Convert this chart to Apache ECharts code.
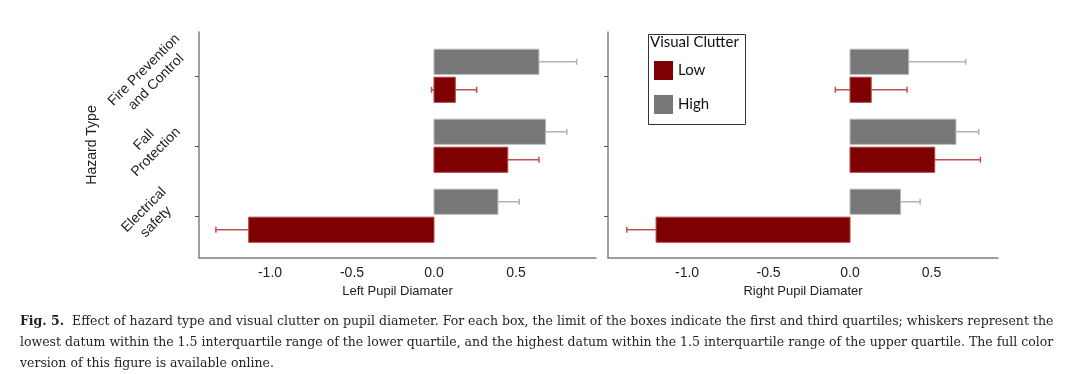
<!DOCTYPE html>
<html>
<head>
<meta charset="utf-8">
<script src="https://cdn.jsdelivr.net/npm/echarts@6/dist/echarts.min.js"></script>
<style>
html,body{margin:0;padding:0;background:#fff;}
#chart{width:1080px;height:374px;}
</style>
</head>
<body>
<div id="chart"></div>
<script>
// ---------- data ----------
const hazardTypes = ['Electrical\nsafety', 'Fall\nProtection', 'Fire Prevention\nand Control'];
const clutterLevels = ['Low', 'High'];
const xTickValues = [-1.0, -0.5, 0.0, 0.5];
const hazardTickValues = [0, 1, 2];

// Left pupil diameter (order: Electrical, Fall, Fire)
const leftLow = [-1.13, 0.45, 0.13];
const leftLowWhiskerFar = [-1.33, 0.64, 0.26];
const leftLowWhiskerNear = [null, null, -0.015];
const leftHigh = [0.39, 0.68, 0.64];
const leftHighWhiskerFar = [0.52, 0.81, 0.87];
const leftHighWhiskerNear = [null, null, null];

// Right pupil diameter
const rightLow = [-1.19, 0.52, 0.13];
const rightLowWhiskerFar = [-1.37, 0.80, 0.35];
const rightLowWhiskerNear = [null, null, -0.09];
const rightHigh = [0.31, 0.65, 0.36];
const rightHighWhiskerFar = [0.43, 0.79, 0.71];
const rightHighWhiskerNear = [null, null, null];

const captionLines = [
  'Effect of hazard type and visual clutter on pupil diameter. For each box, the limit of the boxes indicate the first and third quartiles; whiskers represent the',
  'lowest datum within the 1.5 interquartile range of the lower quartile, and the highest datum within the 1.5 interquartile range of the upper quartile. The full color',
  'version of this figure is available online.'
];

// ---------- styling ----------
const RED = '#7f0000', GRAY = '#777777';
const AX = '#7f7f7f';
const SANS = 'Liberation Sans, Arial, sans-serif';
const SERIF = 'DejaVu Serif, serif';
const CAP_SIZE = 12.5;

function rows(vals, far, near) {
  return vals.map((v, i) => [i, v, far[i] == null ? NaN : far[i], near[i] == null ? NaN : near[i]]);
}

function makeRender(offset, fill, edge, whiskerColor) {
  return function (params, api) {
    const idx = api.value(0);
    const v = api.value(1);
    const far = api.value(2);
    const near = api.value(3);
    const unit = api.size([0, 1])[1];
    const base = api.coord([0, idx]);
    const yc = base[1] + offset * unit;
    const h = 0.36 * unit;
    const x0 = base[0];
    const x1 = api.coord([v, idx])[0];
    const children = [];
    const cap = 3;
    function whisker(a, b) {
      const xa = api.coord([a, idx])[0], xb = api.coord([b, idx])[0];
      children.push({type: 'line', shape: {x1: xa, y1: yc, x2: xb, y2: yc}, style: {stroke: whiskerColor, lineWidth: 1.5}});
      children.push({type: 'line', shape: {x1: xb, y1: yc - cap, x2: xb, y2: yc + cap}, style: {stroke: whiskerColor, lineWidth: 1.5}});
    }
    if (!isNaN(far)) whisker(v, far);
    if (!isNaN(near)) whisker(0, near);
    children.push({
      type: 'rect',
      shape: {x: Math.min(x0, x1), y: yc - h / 2, width: Math.abs(x1 - x0), height: h},
      style: {fill: fill, stroke: edge, lineWidth: 1}
    });
    return {type: 'group', children: children};
  };
}

function yAxisFor(gi, showLabels) {
  return {
    type: 'value', gridIndex: gi, min: -0.6, max: 2.63,
    axisLine: {show: true, onZero: false, lineStyle: {color: AX, width: 1.5}},
    axisTick: {show: true, customValues: hazardTickValues, length: 4, lineStyle: {color: '#555', width: 1}},
    axisLabel: {
      show: showLabels, customValues: hazardTickValues,
      formatter: v => hazardTypes[Math.round(v)],
      rotate: 45, align: 'center', verticalAlign: 'middle', margin: 49,
      fontSize: 14, lineHeight: 17, color: '#222', fontFamily: SANS
    },
    splitLine: {show: false},
    name: showLabels ? 'Hazard Type' : '',
    nameLocation: 'middle', nameGap: 100, nameRotate: 90,
    nameTextStyle: {fontSize: 14, color: '#222', fontFamily: SANS}
  };
}

function xAxisFor(gi, min, max, name) {
  return {
    type: 'value', gridIndex: gi, min: min, max: max,
    axisLine: {show: true, onZero: false, lineStyle: {color: AX, width: 1.5}},
    axisTick: {show: false},
    axisLabel: {customValues: xTickValues, formatter: v => v.toFixed(1), margin: 8, fontSize: 14, color: '#222', fontFamily: SANS},
    splitLine: {show: false},
    name: name, nameLocation: 'middle', nameGap: 27,
    nameTextStyle: {fontSize: 13, color: '#222', fontFamily: SANS}
  };
}

function seriesFor(name, gi, vals, far, near, offset, fill, edge, wcol) {
  return {
    type: 'custom', name: name, xAxisIndex: gi, yAxisIndex: gi,
    renderItem: makeRender(offset, fill, edge, wcol),
    encode: {x: [1, 2, 3], y: 0},
    itemStyle: {color: fill},
    data: rows(vals, far, near),
    z: 3
  };
}

const chart = echarts.init(document.getElementById('chart'), null, {renderer: 'canvas'});
chart.setOption({
  animation: false,
  backgroundColor: '#fff',
  grid: [
    {left: 199, top: 32, width: 397, height: 226},
    {left: 608, top: 32, width: 390, height: 226}
  ],
  xAxis: [
    xAxisFor(0, -1.433, 0.988, 'Left Pupil Diamater'),
    xAxisFor(1, -1.485, 0.908, 'Right Pupil Diamater')
  ],
  yAxis: [yAxisFor(0, true), yAxisFor(1, false)],
  legend: {
    data: clutterLevels, orient: 'vertical', left: 654, top: 61, padding: 0,
    icon: 'rect', itemWidth: 19, itemHeight: 19, itemGap: 15,
    textStyle: {fontSize: 15, color: '#111', fontFamily: 'Lato, sans-serif'}
  },
  series: [
    seriesFor('Low', 0, leftLow, leftLowWhiskerFar, leftLowWhiskerNear, 0.196, RED, '#b04848', '#c0504d'),
    seriesFor('High', 0, leftHigh, leftHighWhiskerFar, leftHighWhiskerNear, -0.204, GRAY, '#b8b8b8', '#b3b3b3'),
    seriesFor('Low', 1, rightLow, rightLowWhiskerFar, rightLowWhiskerNear, 0.196, RED, '#b04848', '#c0504d'),
    seriesFor('High', 1, rightHigh, rightHighWhiskerFar, rightHighWhiskerNear, -0.204, GRAY, '#b8b8b8', '#b3b3b3')
  ],
  graphic: [
    {type: 'rect', left: 646, top: 32, shape: {width: 97, height: 90}, style: {fill: 'none', stroke: '#333', lineWidth: 1}, z: 10},
    {type: 'text', left: 650, top: 35, style: {text: 'Visual Clutter', fontSize: 15, fill: '#111', fontFamily: 'Lato, sans-serif'}, z: 10},
    {type: 'text', left: 20, top: 315, style: {
      text: '{b|Fig. 5.}  ' + captionLines[0],
      rich: {b: {fontWeight: 'bold', fontSize: CAP_SIZE, fontFamily: SERIF, fill: '#231f20'}},
      fontSize: CAP_SIZE, fontFamily: SERIF, fill: '#231f20'}},
    {type: 'text', left: 20, top: 336, style: {text: captionLines[1], fontSize: CAP_SIZE, fontFamily: SERIF, fill: '#231f20'}},
    {type: 'text', left: 20, top: 357, style: {text: captionLines[2], fontSize: CAP_SIZE, fontFamily: SERIF, fill: '#231f20'}}
  ]
});
</script>
</body>
</html>
